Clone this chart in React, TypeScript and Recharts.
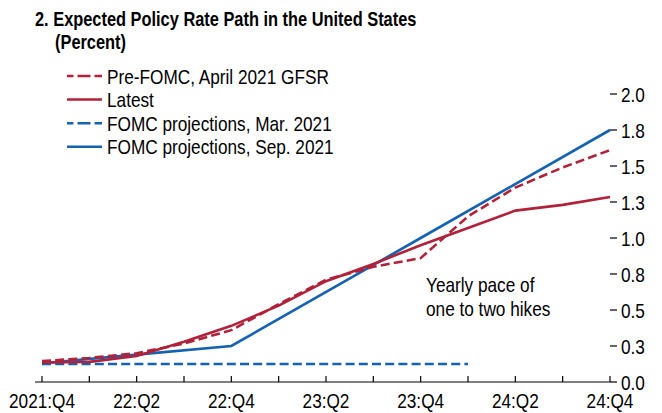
import React from 'react'
import { LineChart, Line, XAxis, YAxis } from 'recharts'

// quarters shown on the x axis (labels every other quarter)
const quarters = ['2021:Q4', '22:Q1', '22:Q2', '22:Q3', '22:Q4', '23:Q1', '23:Q2', '23:Q3', '23:Q4', '24:Q1', '24:Q2', '24:Q3', '24:Q4']

// pre-FOMC market path, April 2021 GFSR (red dashed)
const preFomc = [0.145, 0.167, 0.2, 0.267, 0.36, 0.54, 0.71, 0.8, 0.86, 1.15, 1.35, 1.49, 1.61]
// latest market path (red solid)
const latest = [0.135, 0.14, 0.18, 0.28, 0.39, 0.53, 0.7, 0.82, 0.95, 1.07, 1.19, 1.23, 1.285]
// FOMC projections, Mar. 2021 (blue dashed)
const fomcMar = [0.125, 0.125, 0.125, 0.125, 0.125, 0.125, 0.125, 0.125, 0.125, 0.125, null, null, null]
// FOMC projections, Sep. 2021 (blue solid)
const fomcSep = [0.13, null, 0.19, null, 0.25, null, null, null, 1.0, null, null, null, 1.75]

const rightTicks = [0, 0.25, 0.5, 0.75, 1.0, 1.25, 1.5, 1.75, 2.0]
const leftTicks = [0.25, 0.5, 0.75, 1.0, 1.25, 1.5, 1.75, 2.0]

const data = quarters.map((q, i) => ({
  q,
  preFomc: preFomc[i],
  latest: latest[i],
  fomcMar: fomcMar[i],
  fomcSep: fomcSep[i],
}))

const RED = '#b0213a'
const BLUE = '#1462b0'
const FONT = "'Liberation Sans', Arial, sans-serif"

const legendItems = [
  { label: 'Pre-FOMC, April 2021 GFSR', color: RED, dash: '13 4' },
  { label: 'Latest', color: RED, dash: undefined },
  { label: 'FOMC projections, Mar. 2021', color: BLUE, dash: '13 4' },
  { label: 'FOMC projections, Sep. 2021', color: BLUE, dash: undefined },
]

// condensed look: regular sans squeezed horizontally
const Narrow = ({ x, y, size = 21, bold = false, anchor = 'start', dy, children }: any) => (
  <text
    transform={`translate(${x},${y}) scale(0.82,1)`}
    dy={dy}
    textAnchor={anchor}
    fontSize={size}
    fontWeight={bold ? 'bold' : 'normal'}
    fontFamily={FONT}
    fill="#000"
  >
    {children}
  </text>
)

const XTick = (props: any) => {
  const { x, y, index } = props
  return (
    <g>
      <line x1={x} y1={y} x2={x} y2={y - 6} stroke="#000" strokeWidth={1.2} />
      {index % 2 === 0 && (
        <Narrow x={x} y={y + 26} anchor="middle">
          {quarters[index]}
        </Narrow>
      )}
    </g>
  )
}

const LeftTick = (props: any) => {
  const { x, y } = props
  return <line x1={x} y1={y} x2={x + 7} y2={y} stroke="#000" strokeWidth={1.2} />
}

const RightTick = (props: any) => {
  const { x, y, payload } = props
  return (
    <g>
      <line x1={x} y1={y} x2={x + 7} y2={y} stroke="#000" strokeWidth={1.2} />
      <Narrow x={x + 11} y={y + 7.5}>
        {payload.value.toFixed(1)}
      </Narrow>
    </g>
  )
}

const App = () => {
  return (
    <div style={{ position: 'absolute', left: 0, top: 0, width: 662, height: 413, background: '#fff' }}>
      <LineChart width={662} height={413} data={data} margin={{ top: 94, right: 0, left: 34, bottom: 0 }}>
        <XAxis
          dataKey="q"
          interval={0}
          padding={{ left: 7, right: 0 }}
          height={31}
          tickSize={0}
          tickMargin={0}
          tickLine={false}
          axisLine={{ stroke: '#000', strokeWidth: 1.2 }}
          tick={<XTick />}
        />
        <YAxis
          yAxisId="left"
          orientation="left"
          width={1}
          domain={[0, 2]}
          ticks={leftTicks}
          tickSize={0}
          tickMargin={0}
          tickLine={false}
          axisLine={false}
          tick={<LeftTick />}
        />
        <YAxis
          yAxisId="right"
          orientation="right"
          width={52}
          domain={[0, 2]}
          ticks={rightTicks}
          interval={0}
          tickSize={0}
          tickMargin={0}
          tickLine={false}
          axisLine={false}
          tick={<RightTick />}
        />
        <Line yAxisId="right" dataKey="fomcMar" stroke={BLUE} strokeWidth={2.6} strokeDasharray="9 4.2" dot={false} isAnimationActive={false} />
        <Line yAxisId="right" dataKey="fomcSep" stroke={BLUE} strokeWidth={2.6} dot={false} connectNulls isAnimationActive={false} />
        <Line yAxisId="right" dataKey="preFomc" stroke={RED} strokeWidth={2.6} strokeDasharray="9 4.2" dot={false} isAnimationActive={false} />
        <Line yAxisId="right" dataKey="latest" stroke={RED} strokeWidth={2.6} dot={false} isAnimationActive={false} />
      </LineChart>
      <svg width={662} height={413} style={{ position: 'absolute', left: 0, top: 0, pointerEvents: 'none' }}>
        <Narrow x={35} y={26} size={20} bold>
          2. Expected Policy Rate Path in the United States
        </Narrow>
        <Narrow x={55} y={49} size={20} bold>
          (Percent)
        </Narrow>
        {legendItems.map((it, i) => {
          const cy = 76 + i * 23.6
          return (
            <g key={it.label}>
              <line x1={67} y1={cy} x2={102} y2={cy} stroke={it.color} strokeWidth={2.5} strokeDasharray={it.dash} strokeDashoffset={it.dash ? 6.5 : undefined} />
              <Narrow x={107} y={cy + 7.5}>
                {it.label}
              </Narrow>
            </g>
          )
        })}
        <Narrow x={426} y={292}>Yearly pace of</Narrow>
        <Narrow x={426} y={315.5}>one to two hikes</Narrow>
      </svg>
    </div>
  )
}

export default App
